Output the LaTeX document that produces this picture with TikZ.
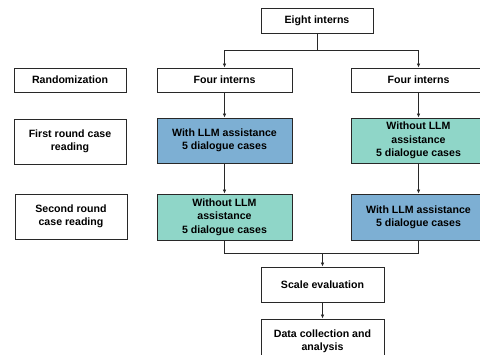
\documentclass[tikz,border=0pt]{standalone}
\usepackage{fontspec}
\setmainfont{Liberation Sans}
\usetikzlibrary{arrows.meta}
\definecolor{boxblue}{RGB}{125,175,211}
\definecolor{boxgreen}{RGB}{143,214,200}
\definecolor{edge}{RGB}{40,40,40}
\begin{document}
\begin{tikzpicture}[x=1pt,y=-1pt,
  box/.style={draw=edge,line width=0.9pt,fill=white,align=center,inner sep=0pt,
    font=\fontsize{10.6}{13.3}\selectfont\bfseries},
  arr/.style={draw=edge,line width=0.9pt,-{Latex[length=4pt,width=3.6pt]}},
  ln/.style={draw=edge,line width=0.9pt}]
\clip (0,0) rectangle (480,354);
\useasboundingbox (0,0) rectangle (480,354);
% left labels
\node[box,minimum width=112pt,minimum height=24pt] (rand) at (70,80) {Randomization};
\node[box,minimum width=112pt,minimum height=45pt] (first) at (70,141.5) {First round case\\reading};
\node[box,minimum width=112pt,minimum height=45pt] (second) at (71,216.5) {Second round\\case reading};
% main flow
\node[box,minimum width=112pt,minimum height=25pt] (eight) at (317,20.5) {Eight interns};
\node[box,minimum width=135pt,minimum height=24pt] (fl) at (224.5,80) {Four interns};
\node[box,minimum width=135pt,minimum height=24pt] (fr) at (418.5,80) {Four interns};
\node[box,fill=boxblue,minimum width=135pt,minimum height=45pt] (bl) at (224.5,140.5) {With LLM assistance\\5 dialogue cases};
\node[box,fill=boxgreen,minimum width=135pt,minimum height=45pt] (gr) at (418.5,140.5) {Without LLM\\assistance\\5 dialogue cases};
\node[box,fill=boxgreen,minimum width=135pt,minimum height=46pt] (gl) at (224.5,217) {Without LLM\\assistance\\5 dialogue cases};
\node[box,fill=boxblue,minimum width=135pt,minimum height=46pt] (br) at (418.5,217) {With LLM assistance\\5 dialogue cases};
\node[box,minimum width=123pt,minimum height=35pt] (scale) at (322.5,284.5) {Scale evaluation};
\node[box,minimum width=123pt,minimum height=44pt] (data) at (322.5,341) {Data collection and\\analysis};
% connectors
\coordinate (split) at (317,50);
\draw[ln] (eight.south) -- (split);
\draw[arr] (split) -| (fl.north);
\draw[arr] (split) -| (fr.north);
\draw[arr] (fl) -- (bl);
\draw[arr] (fr) -- (gr);
\draw[arr] (bl) -- (gl);
\draw[arr] (gr) -- (br);
\coordinate (merge) at (322.5,253);
\draw[ln] (gl.south) |- (merge);
\draw[ln] (br.south) |- (merge);
\draw[arr] (merge) -- (scale.north);
\draw[arr] (scale) -- (data);
\end{tikzpicture}
\end{document}
